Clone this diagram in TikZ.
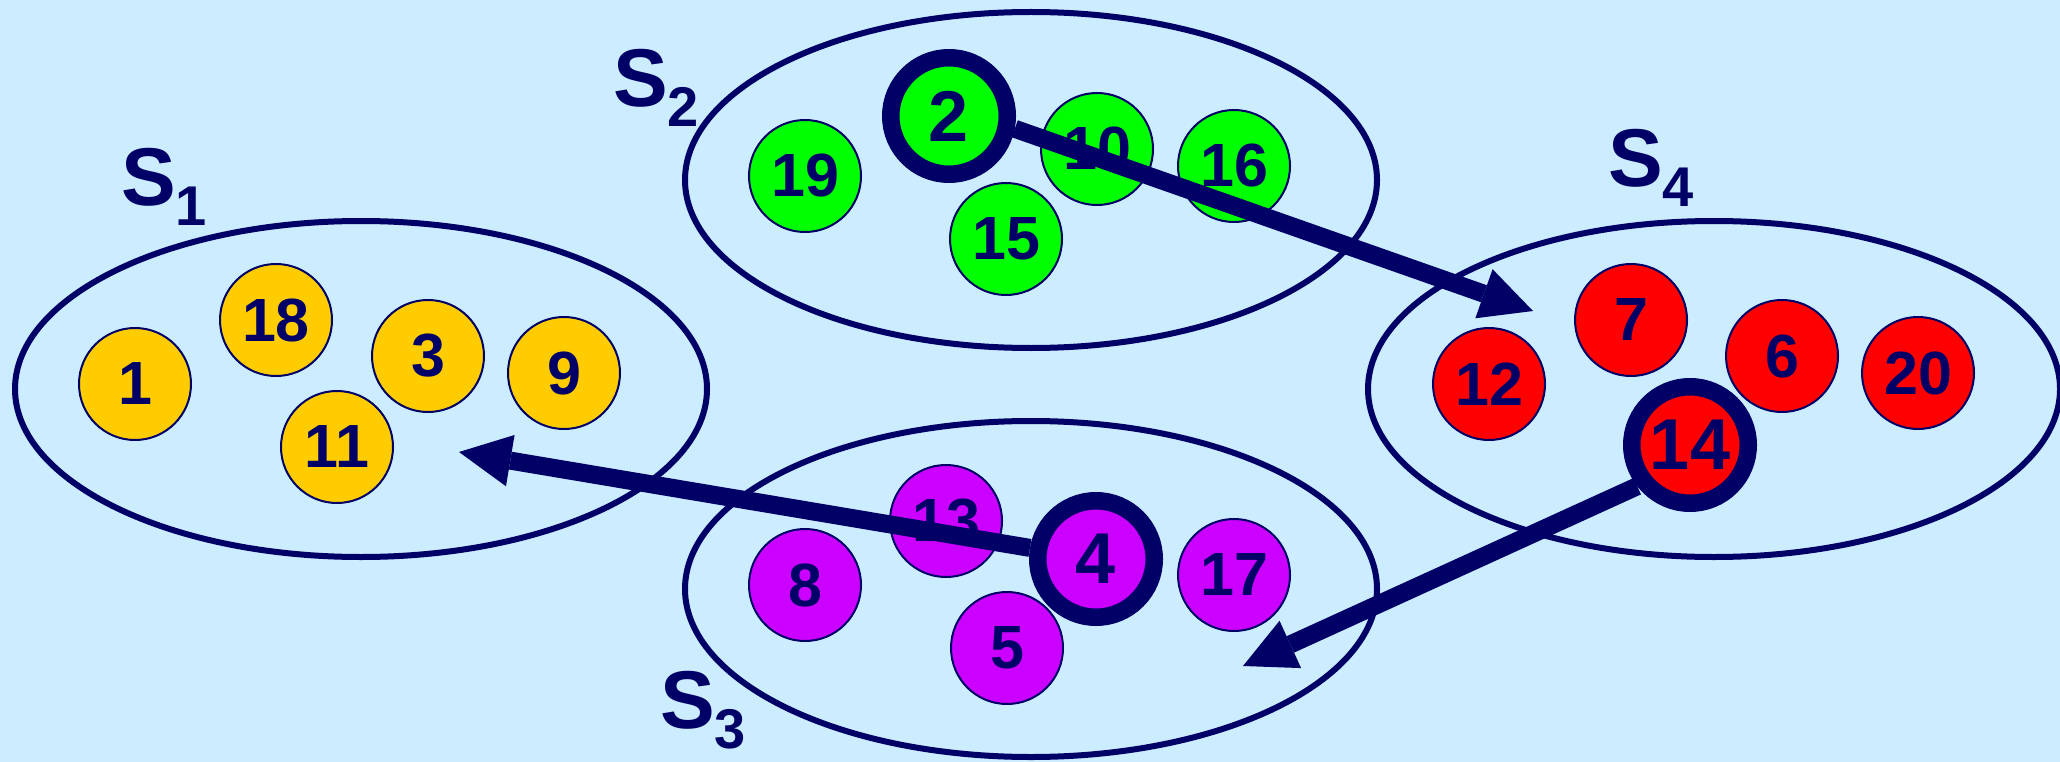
\documentclass[tikz,border=0pt]{standalone}
\usepackage{fontspec}
\setmainfont{Liberation Sans}
\usetikzlibrary{shapes.geometric, arrows.meta}
\definecolor{skybg}{HTML}{CCECFF}
\definecolor{setline}{HTML}{000066}
\definecolor{goldball}{HTML}{FFCC00}
\definecolor{greenball}{HTML}{00FF00}
\definecolor{redball}{HTML}{FF0000}
\definecolor{violetball}{HTML}{CC00FF}
\newcommand{\subidx}[1]{\raisebox{-20pt}{\fontsize{56}{56}\selectfont #1}}
\tikzset{
  setbox/.style={ellipse, draw=setline, line width=6pt, minimum width=692pt,
    minimum height=336pt, inner sep=0pt},
  setlabel/.style={anchor=base west, text=setline, inner sep=0pt,
    font=\fontsize{82}{82}\selectfont\bfseries},
  elem/.style={circle, draw=setline, line width=2pt, minimum size=112pt,
    inner sep=0pt, text=setline, font=\fontsize{61}{61}\selectfont\bfseries},
  leader/.style={elem, line width=17.5pt, minimum size=116.5pt,
    font=\fontsize{72}{72}\selectfont\bfseries},
  msg/.style={-{Triangle[length=52pt, width=52pt, line width=0pt]},
    line width=18pt, draw=setline},
}

\begin{document}
\begin{tikzpicture}[x=1pt, y=-1pt]
  % background
  \fill[skybg] (0,0) rectangle (2060,762);
  \useasboundingbox (0,0) rectangle (2060,762);

  % the four sets
  \node[setbox] (s1) at (361,389) {};
  \node[setbox] (s2) at (1031,180) {};
  \node[setbox] (s3) at (1031,589) {};
  \node[setbox] (s4) at (1714,389) {};

  \node[setlabel] (l1) at (121,206) {S\subidx{1}};
  \node[setlabel] (l2) at (613,107) {S\subidx{2}};
  \node[setlabel] (l3) at (660,728) {S\subidx{3}};
  \node[setlabel] (l4) at (1608,187) {S\subidx{4}};

  % S1
  \node[elem, fill=goldball] (n1) at (135,384) {1};
  \node[elem, fill=goldball] (n18) at (276,320) {18};
  \node[elem, fill=goldball] (n3) at (428,356) {3};
  \node[elem, fill=goldball] (n9) at (564,373) {9};
  \node[elem, fill=goldball] (n11) at (337,447) {11};

  % S2
  \node[elem, fill=greenball] (n19) at (805,176) {19};
  \node[leader, fill=greenball] (n2) at (949,116) {2};
  \node[elem, fill=greenball] (n10) at (1097,149) {10};
  \node[elem, fill=greenball] (n16) at (1234,166) {16};
  \node[elem, fill=greenball] (n15) at (1006,239) {15};

  % S3
  \node[elem, fill=violetball] (n8) at (805,585) {8};
  \node[elem, fill=violetball] (n13) at (946,521) {13};
  \node[leader, fill=violetball] (n4) at (1096,559) {4};
  \node[elem, fill=violetball] (n17) at (1234,575) {17};
  \node[elem, fill=violetball] (n5) at (1007,648) {5};

  % S4
  \node[elem, fill=redball] (n12) at (1489,384) {12};
  \node[elem, fill=redball] (n7) at (1631,320) {7};
  \node[elem, fill=redball] (n6) at (1782,356) {6};
  \node[elem, fill=redball] (n20) at (1918,373) {20};
  \node[leader, fill=redball] (n14) at (1690,445) {14};

  % messages between the leaders
  \coordinate (t1) at (1533,311);
  \coordinate (t2) at (459,452);
  \coordinate (t3) at (1243,666);
  \draw[msg] (n2.-11) -- (t1);
  \draw[msg] (n4) -- (t2);
  \draw[msg] (n14.218) -- (t3);
\end{tikzpicture}
\end{document}
